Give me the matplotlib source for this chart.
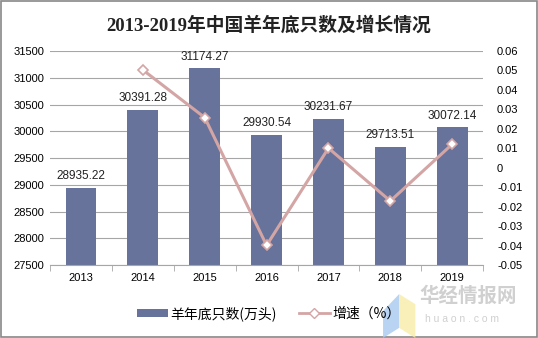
import matplotlib.pyplot as plt
import numpy as np
from matplotlib.lines import Line2D
from matplotlib.patches import Patch, Rectangle, Polygon

plt.rcParams['font.family'] = ['Liberation Sans', 'Noto Sans CJK SC']

years = ['2013', '2014', '2015', '2016', '2017', '2018', '2019']
sheep = [28935.22, 30391.28, 31174.27, 29930.54, 30231.67, 29713.51, 30072.14]
growth = [None, 0.0503, 0.0258, -0.0399, 0.0101, -0.0171, 0.0121]

bar_color = '#67739a'
line_color = '#d4a5a5'
grid_color = '#a6a6a6'

fig = plt.figure(figsize=(5.38, 3.38), dpi=100)
fig.patches.append(Rectangle((0.002, 0.003), 0.996, 0.994, transform=fig.transFigure,
                             fill=False, edgecolor='#888888', linewidth=1.2))
ax = fig.add_axes([0.093, 0.216, 0.805, 0.633])

x = np.arange(len(years))
ax.bar(x, sheep, width=0.5, color=bar_color, zorder=2)
for xi, v in zip(x, sheep):
    ax.text(xi, v + 110, f'{v:.2f}', ha='center', va='bottom', fontsize=8.5, color='#222222')

ax.set_ylim(27500, 31500)
ax.set_yticks(np.arange(27500, 31501, 500))
ax.set_xlim(-0.5, len(years) - 0.5)
ax.set_xticks(x)
ax.set_xticklabels(years)
ax.set_xticks(np.arange(-0.5, len(years)), minor=True)
ax.tick_params(axis='x', which='major', length=0, labelsize=8, pad=6)
ax.tick_params(axis='x', which='minor', length=4, color=grid_color)
ax.tick_params(axis='y', length=0, labelsize=8, pad=4)
ax.yaxis.grid(True, color=grid_color, linewidth=0.8, zorder=0)
ax.set_axisbelow(True)
for s in ['top', 'left', 'right']:
    ax.spines[s].set_visible(False)
ax.spines['bottom'].set_color(grid_color)

ax2 = ax.twinx()
gx = [xi for xi, g in zip(x, growth) if g is not None]
gy = [g for g in growth if g is not None]
ax2.plot(gx, gy, color=line_color, linewidth=2.2, marker='D', markersize=5.5,
         markerfacecolor='white', markeredgecolor=line_color, markeredgewidth=1.2, zorder=3)
ax2.set_ylim(-0.05, 0.06)
ticks2 = np.arange(-0.05, 0.0601, 0.01)
ax2.set_yticks(ticks2)
ax2.set_yticklabels(['0' if abs(t) < 1e-9 else f'{t:.2f}' for t in ticks2])
ax2.tick_params(axis='y', length=0, labelsize=8, pad=10)
for s in ['top', 'left', 'right', 'bottom']:
    ax2.spines[s].set_visible(False)

fig.text(0.5, 0.925, '2013-2019年中国羊年底只数及增长情况', ha='center', va='center',
         fontsize=13.5, fontweight='bold', family=['Liberation Serif', 'Noto Sans CJK SC'],
         color='#222222')

handles = [Patch(facecolor=bar_color),
           Line2D([], [], color=line_color, linewidth=2, marker='D', markersize=5,
                  markerfacecolor='white', markeredgecolor=line_color)]
fig.legend(handles, ['羊年底只数(万头)', '增速（%）'], loc='center', bbox_to_anchor=(0.5, 0.073),
           ncol=2, frameon=False, handlelength=2.2, handleheight=0.5,
           columnspacing=1.6, handletextpad=0.2, prop={'family': ['Noto Sans CJK SC'], 'size': 10})

# watermark
fig.patches.append(Polygon([(0.712, 0.08), (0.742, 0.13), (0.742, 0.03), (0.712, 0.0)], closed=True,
                           transform=fig.transFigure, facecolor='#a8c8f0', edgecolor='none', alpha=0.8))
fig.patches.append(Polygon([(0.742, 0.13), (0.772, 0.10), (0.772, 0.0), (0.742, 0.03)], closed=True,
                           transform=fig.transFigure, facecolor='#f8eca8', edgecolor='none', alpha=0.8))
fig.text(0.78, 0.125, '华经情报网', fontsize=14, fontweight='bold', color='#d0d0d0',
         family=['Noto Sans CJK SC'], va='center')
fig.text(0.79, 0.055, 'h u a o n . c o m', fontsize=7.5, color='#d0d0d0', va='center')

fig.savefig('out.png', dpi=100)
